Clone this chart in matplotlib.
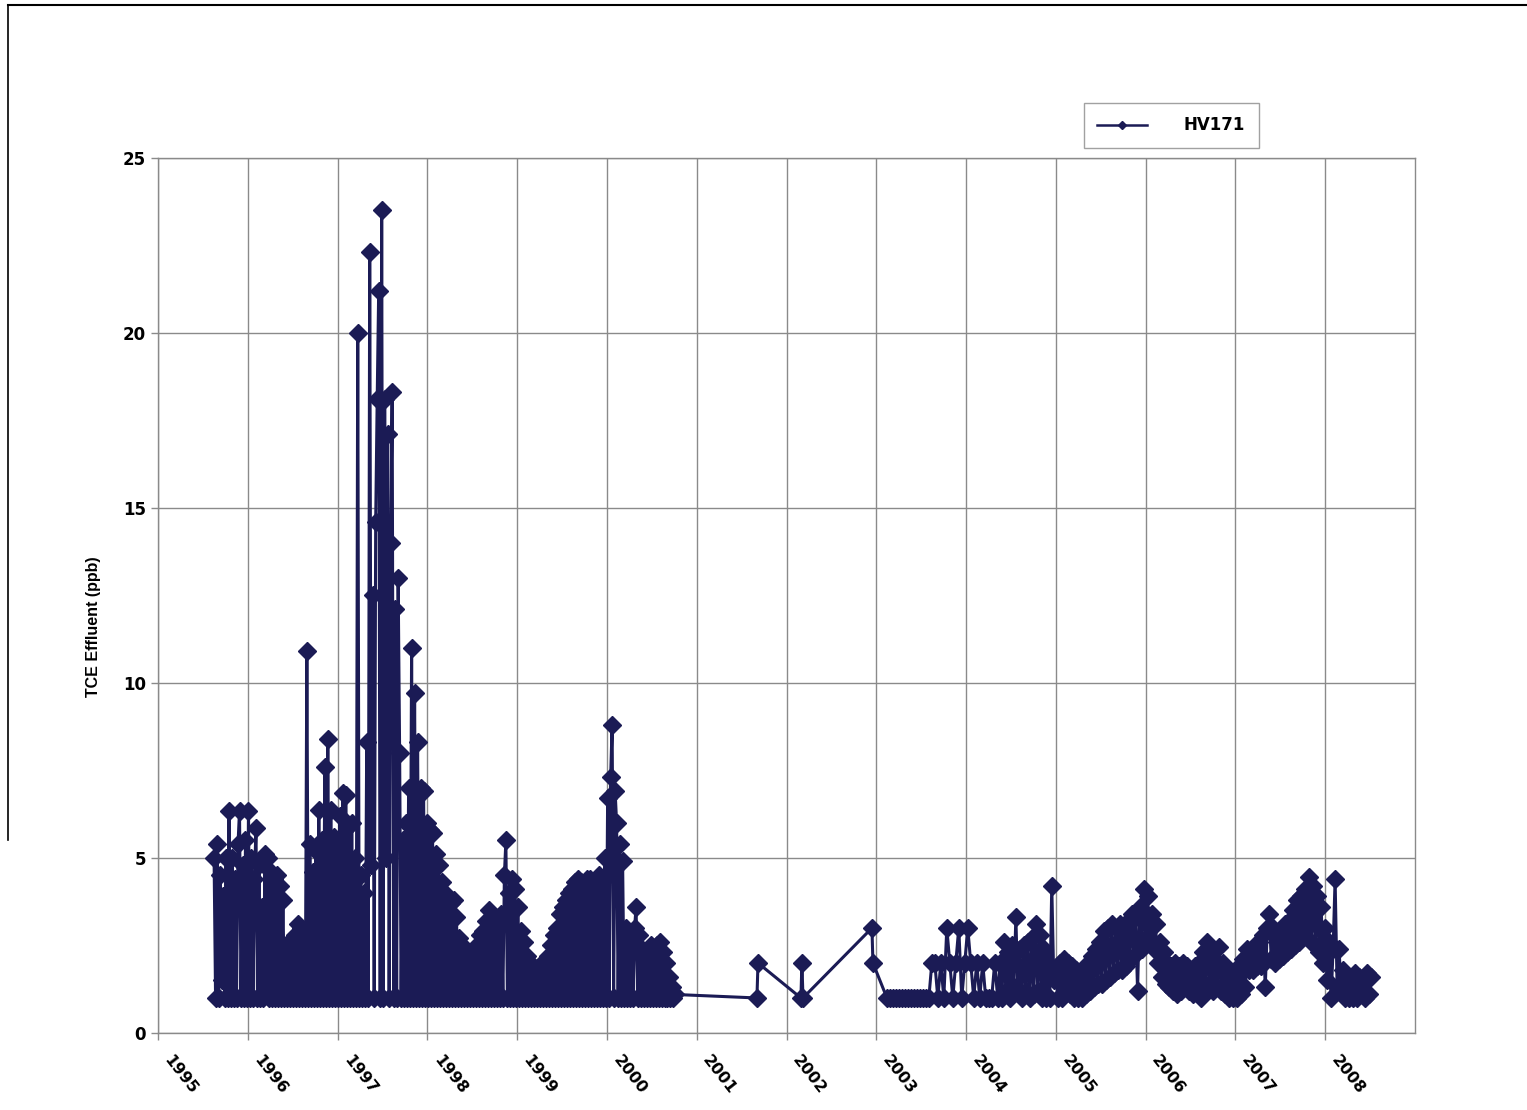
import matplotlib.pyplot as plt
import numpy as np
from matplotlib.lines import Line2D
from matplotlib.transforms import ScaledTranslation

# dense sampling 1995.6 - 2000.8 (one sample every 1/60 year)
start_a, step_a = 1995.624, 1 / 60
tce_a = [
    5.0, 1.0, 5.4, 1.0, 4.5, 1.5, 3.9, 1.0, 5.0, 1.0,
    6.35, 1.0, 5.0, 1.0, 4.4, 1.0, 5.4, 6.35, 1.0, 4.8,
    1.0, 5.5, 1.0, 6.35, 1.0, 5.0, 1.0, 4.4, 5.85, 1.0,
    4.8, 1.0, 3.6, 1.0, 5.1, 1.2, 5.0, 1.0, 4.6, 1.0,
    4.4, 1.0, 4.5, 1.0, 4.2, 1.0, 3.8, 1.0, 2.5, 1.0,
    2.3, 1.0, 2.0, 1.0, 2.8, 1.0, 3.1, 1.0, 3.0, 1.0,
    2.7, 1.0, 10.9, 1.0, 5.4, 1.0, 4.6, 1.0, 5.2, 1.0,
    6.37, 1.0, 5.5, 1.0, 7.6, 1.0, 8.4, 1.0, 6.37, 1.0,
    5.6, 1.0, 5.3, 1.0, 6.2, 1.0, 6.85, 1.0, 6.8, 1.0,
    5.9, 1.0, 6.0, 1.0, 5.0, 1.0, 20.0, 1.0, 4.5, 1.0,
    4.0, 1.0, 8.3, 1.0, 22.3, 4.8, 12.5, 1.0, 14.6, 18.1,
    21.2, 1.0, 23.5, 1.0, 18.1, 5.0, 17.1, 1.0, 14.0, 18.3,
    1.0, 12.1, 1.0, 13.0, 8.0, 1.0, 5.5, 1.0, 6.0, 1.0,
    7.0, 1.0, 11.0, 1.0, 9.7, 1.0, 8.3, 1.0, 7.0, 1.0,
    6.9, 1.0, 6.0, 1.0, 5.8, 1.0, 5.7, 1.0, 5.1, 1.0,
    4.8, 1.0, 4.3, 1.0, 4.0, 1.0, 3.8, 1.0, 3.7, 1.0,
    3.8, 1.0, 3.3, 1.0, 2.7, 1.0, 2.5, 1.0, 2.3, 1.0,
    2.2, 1.0, 2.3, 1.0, 2.1, 1.0, 2.5, 1.0, 2.8, 1.0,
    2.9, 1.0, 3.2, 1.0, 3.5, 1.0, 3.3, 1.0, 3.0, 1.0,
    3.1, 1.0, 3.4, 1.0, 4.5, 5.5, 1.0, 4.0, 1.0, 4.4,
    1.0, 4.1, 1.0, 3.6, 1.0, 2.9, 1.0, 2.6, 1.0, 2.2,
    1.0, 2.0, 1.0, 1.9, 1.0, 1.8, 1.0, 1.9, 1.0, 1.8,
    1.0, 2.0, 1.0, 2.2, 1.0, 2.5, 1.0, 2.8, 1.0, 3.0,
    1.0, 3.4, 1.0, 3.6, 1.0, 3.8, 1.0, 4.0, 1.0, 4.1,
    1.0, 4.3, 1.0, 4.4, 1.0, 4.3, 1.0, 4.2, 1.0, 4.4,
    1.0, 4.4, 1.0, 4.3, 1.0, 4.4, 1.0, 4.5, 1.0, 4.3,
    1.0, 5.0, 1.0, 6.7, 1.0, 7.3, 8.8, 1.0, 6.9, 6.0,
    1.0, 5.4, 1.0, 4.9, 1.0, 3.0, 1.0, 2.8, 1.0, 2.5,
    1.0, 3.0, 3.6, 1.0, 2.8, 1.0, 2.4, 1.0, 2.2, 1.0,
    2.4, 1.0, 2.5, 1.0, 2.3, 1.0, 2.5, 1.0, 2.6, 1.0,
    2.3, 1.0, 2.0, 1.0, 1.6, 1.0, 1.3, 1.0, 1.1,
]

# sparse samples 2001 - 2003
dates_b = [2001.670, 2001.682, 2002.160, 2002.171, 2002.183, 2002.951, 2002.962]
tce_b = [1.0, 2.0, 1.0, 2.0, 1.0, 3.0, 2.0]

# 2003.1 - 2004.4 (one sample every 1/30 year)
start_c, step_c = 2003.118, 1 / 30
tce_c = [
    1.0, 1.0, 1.0, 1.0, 1.0, 1.0, 1.0, 1.0, 1.0, 1.0,
    1.0, 1.0, 1.0, 1.0, 1.0, 2.0, 2.0, 1.0, 2.0, 1.0,
    3.0, 2.0, 1.0, 2.0, 3.0, 1.0, 2.0, 3.0, 2.0, 1.0,
    2.0, 1.0, 2.0, 1.0, 1.0, 1.0, 2.0, 1.0,
]

# 2004.4 - 2008.4 (one sample every 1/45 year)
start_d, step_d = 2004.376, 1 / 45
tce_d = [
    2.0, 1.0, 2.6, 1.2, 2.3, 1.0, 2.5, 1.3, 3.3, 1.2,
    2.4, 1.0, 2.5, 1.2, 2.6, 1.0, 2.7, 1.1, 3.1, 1.2,
    2.8, 1.0, 2.4, 1.0, 2.0, 1.0, 4.2, 1.5, 1.7, 1.0,
    2.0, 1.0, 2.1, 1.2, 2.0, 1.1, 1.9, 1.0, 1.8, 1.0,
    1.7, 1.0, 1.8, 1.1, 2.0, 1.2, 2.2, 1.3, 2.4, 1.4,
    2.6, 1.4, 2.9, 1.5, 3.0, 1.6, 3.1, 1.7, 3.0, 1.8,
    3.1, 1.8, 2.8, 1.9, 3.2, 2.1, 3.4, 2.2, 3.3, 1.2,
    3.6, 2.4, 4.1, 2.7, 3.9, 2.6, 3.4, 2.4, 3.1, 2.0,
    2.6, 1.6, 2.3, 1.4, 2.0, 1.3, 1.9, 1.2, 2.0, 1.1,
    1.9, 1.2, 2.0, 1.3, 1.9, 1.2, 1.8, 1.1, 1.9, 1.2,
    2.0, 1.0, 2.3, 1.4, 2.6, 1.3, 2.2, 1.2, 2.0, 1.3,
    2.45, 1.2, 2.0, 1.1, 1.8, 1.0, 1.7, 1.0, 1.6, 1.0,
    1.9, 1.1, 2.1, 1.3, 2.4, 1.8, 2.3, 1.8, 2.5, 1.9,
    2.6, 1.9, 2.8, 1.3, 3.0, 3.4, 2.1, 3.0, 2.0, 2.8,
    2.1, 2.9, 2.2, 3.1, 2.3, 3.2, 2.4, 3.5, 2.5, 3.8,
    2.6, 3.9, 2.8, 4.1, 3.0, 4.45, 2.6, 4.2, 2.5, 3.9,
    2.3, 3.6, 2.0, 3.0, 1.5, 2.6, 1.0, 2.4, 4.4, 1.3,
    2.4, 1.2, 1.8, 1.0, 1.6, 1.0, 1.5, 1.0, 1.7, 1.0,
    1.6, 1.1, 1.5, 1.0, 1.7, 1.1, 1.6,
]

years = list(range(1995, 2009))
y_ticks = [0, 5, 10, 15, 20, 25]
series_label = 'HV171'

navy = '#1b1b55'
grid_gray = '#8a8a8a'

dates = np.concatenate([
    start_a + step_a * np.arange(len(tce_a)),
    dates_b,
    start_c + step_c * np.arange(len(tce_c)),
    start_d + step_d * np.arange(len(tce_d)),
])
tce = np.concatenate([tce_a, tce_b, tce_c, tce_d])

fig = plt.figure(figsize=(15.27, 11.10), dpi=100)
ax = fig.add_axes([0.1035, 0.0694, 0.8232, 0.7883])

ax.plot(dates, tce, color=navy, lw=2.2, marker='D', ms=9, mfc=navy, mec=navy, mew=1,
        label=series_label)

ax.set_xlim(1995, 2009)
ax.set_ylim(0, 25)
ax.set_xticks(years)
ax.set_yticks(y_ticks)
ax.grid(True, color=grid_gray, lw=1)
ax.set_axisbelow(True)
for s in ax.spines.values():
    s.set_color(grid_gray)
    s.set_linewidth(1)
ax.tick_params(colors=grid_gray, length=5, width=1)

ax.set_yticklabels([str(v) for v in y_ticks], fontfamily='DejaVu Sans', fontweight='bold',
                   fontsize=12, color='black')
ax.set_xticklabels([str(y) for y in years], fontfamily='DejaVu Sans', fontweight='bold',
                   fontsize=11.5, color='black', rotation=-52, ha='left', va='top')
ax.tick_params(axis='x', pad=9)
offset = ScaledTranslation(3 / 100, 0, fig.dpi_scale_trans)
for lab in ax.get_xticklabels():
    lab.set_transform(lab.get_transform() + offset)

ax.set_ylabel('TCE Effluent (ppb)', fontfamily='Liberation Sans', fontweight='bold', fontsize=11.5)
ax.yaxis.set_label_coords(-0.045, 0.464)

lg = fig.legend(loc='center', bbox_to_anchor=(0.767, 0.887), frameon=True, fancybox=False,
                edgecolor=grid_gray, handlelength=3.0, handletextpad=2.2, borderpad=0.8,
                markerscale=0.5, prop={'family': 'DejaVu Sans', 'weight': 'bold', 'size': 12})
lg.get_frame().set_linewidth(1)
for h in lg.get_lines():
    h.set_linewidth(1.8)

# scanned page border
fig.add_artist(Line2D([8 / 1527, 1.0], [1 - 5 / 1110, 1 - 5 / 1110], color='black', lw=1.5))
fig.add_artist(Line2D([8 / 1527, 8 / 1527], [1 - 5 / 1110, 1 - 840 / 1110], color='black', lw=1.2))

fig.savefig('out.png', dpi=100)
